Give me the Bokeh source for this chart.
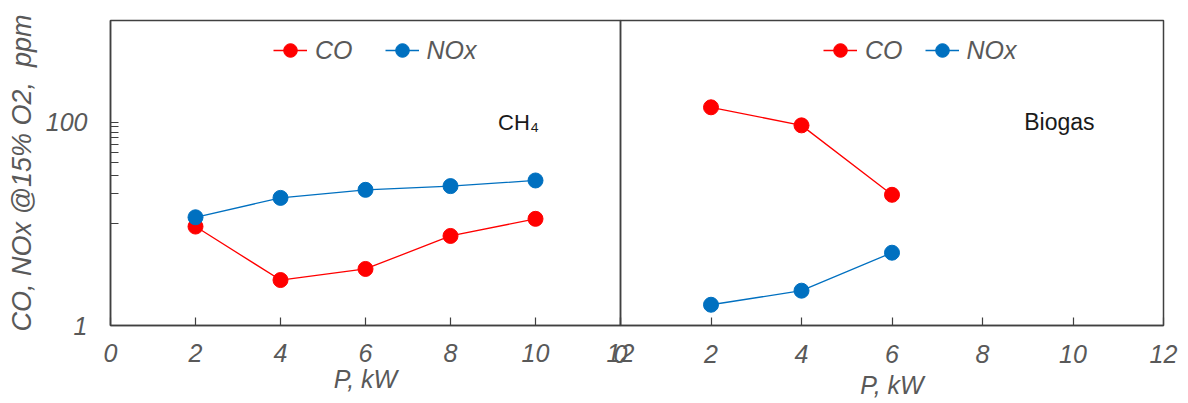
from bokeh.plotting import figure
from bokeh.layouts import row
from bokeh.models import (Range1d, FixedTicker, PrintfTickFormatter,
                          Legend, LegendItem, Label)
from bokeh.embed import file_html
from bokeh.resources import INLINE

# ---- data ----
power_ch4 = [2, 4, 6, 8, 10]
co_ch4 = [9.4, 2.8, 3.6, 7.6, 11.2]
nox_ch4 = [11.6, 18.0, 21.6, 23.5, 26.7]

power_bio = [2, 4, 6]
co_bio = [140, 93, 19.3]
nox_bio = [1.6, 2.2, 5.2]

x_ticks = [0, 2, 4, 6, 8, 10, 12]
y_ticks = [1, 100]
y_minor = [10, 20, 30, 40, 50, 60, 70, 80, 90]

RED = "#FF0000"
BLUE = "#0070C0"
GREY = "#595959"
FONT = "Liberation Sans"
EDGE = "#404040"


def make_fig(width, left, right, with_y):
    f = figure(width=width, height=403, y_axis_type="log",
               x_range=Range1d(0, 12), y_range=Range1d(1, 1000),
               y_axis_location="left" if with_y else None,
               output_backend="svg", toolbar_location=None,
               min_border_left=left, min_border_right=right,
               min_border_top=20, min_border_bottom=78)
    f.xgrid.visible = False
    f.ygrid.visible = False
    f.outline_line_color = EDGE
    f.outline_line_width = 1.5
    f.background_fill_alpha = 0
    f.border_fill_alpha = 0
    axes = list(f.xaxis) + (list(f.yaxis) if with_y else [])
    for ax in axes:
        ax.major_label_text_font = FONT
        ax.major_label_text_font_style = "italic"
        ax.major_label_text_font_size = "25px"
        ax.major_label_text_color = GREY
        ax.axis_label_text_font = FONT
        ax.axis_label_text_font_style = "italic"
        ax.axis_label_text_color = GREY
        ax.axis_label_text_font_size = "25px"
        ax.axis_line_color = EDGE
        ax.axis_line_width = 1.5
        ax.major_tick_in = 8
        ax.major_tick_out = 0
        ax.major_tick_line_color = EDGE
        ax.major_tick_line_width = 1.2
    xa = f.xaxis[0]
    xa.ticker = FixedTicker(ticks=x_ticks)
    xa.minor_tick_line_color = None
    xa.axis_label = "P, kW"
    return f


def make_legend(f, items, loc, spacing):
    lg = Legend(items=items, location=loc, orientation="horizontal",
                glyph_width=34, glyph_height=38, label_standoff=8, spacing=spacing,
                padding=0, margin=0, border_line_alpha=0, background_fill_alpha=0,
                label_text_font=FONT, label_text_font_style="italic",
                label_text_font_size="25px", label_text_color=GREY,
                label_text_baseline="middle")
    f.add_layout(lg, "center")


# ---- left panel: CH4 ----
p1 = make_fig(650, 110, 30, True)
ya = p1.yaxis[0]
ya.ticker = FixedTicker(ticks=y_ticks, minor_ticks=y_minor)
ya.formatter = PrintfTickFormatter(format="%d")
ya.minor_tick_in = 8
ya.minor_tick_out = 0
ya.minor_tick_line_color = EDGE
ya.minor_tick_line_width = 1.2
ya.major_label_standoff = 23
ya.axis_label = "CO, NOx @15% O2,\u00a0 ppm"
ya.axis_label_text_font_size = "27px"
ya.axis_label_standoff = 6
p1.xaxis[0].major_label_standoff = 18
p1.xaxis[0].axis_label_standoff = 0

l_co = p1.line(power_ch4, co_ch4, line_color=RED, line_width=1.3)
s_co = p1.scatter(power_ch4, co_ch4, size=15, fill_color=RED, line_color=RED)
l_nx = p1.line(power_ch4, nox_ch4, line_color=BLUE, line_width=1.3)
s_nx = p1.scatter(power_ch4, nox_ch4, size=15, fill_color=BLUE, line_color=BLUE)
make_legend(p1, [LegendItem(label="CO", renderers=[l_co, s_co]),
                 LegendItem(label="NOx", renderers=[l_nx, s_nx])], (163, 256), 32)
p1.add_layout(Label(x=9.6, y=100, text="CH₄", text_align="center", text_baseline="middle",
                    text_font=FONT, text_font_size="22px", text_color="#1a1a1a"))

# ---- right panel: Biogas ----
p2 = make_fig(598, 30, 25, False)
p2.xaxis[0].major_label_standoff = 19
p2.xaxis[0].axis_label_standoff = 5
p2.margin = (0, 0, 0, -60)

b_co = p2.line(power_bio, co_bio, line_color=RED, line_width=1.3)
bs_co = p2.scatter(power_bio, co_bio, size=15, fill_color=RED, line_color=RED)
b_nx = p2.line(power_bio, nox_bio, line_color=BLUE, line_width=1.3)
bs_nx = p2.scatter(power_bio, nox_bio, size=15, fill_color=BLUE, line_color=BLUE)
make_legend(p2, [LegendItem(label="CO", renderers=[b_co, bs_co]),
                 LegendItem(label="NOx", renderers=[b_nx, bs_nx])], (203, 256), 22)
p2.add_layout(Label(x=9.7, y=100, text="Biogas", text_align="center",
                    text_baseline="middle", text_font=FONT, text_font_size="23px",
                    text_color="#1a1a1a"))

layout = row(p1, p2)
open("out.html", "w").write(file_html(layout, INLINE))
